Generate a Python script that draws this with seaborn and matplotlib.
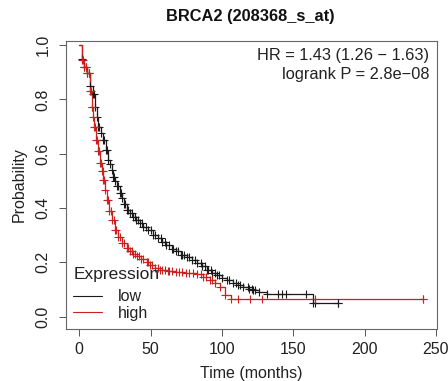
import numpy as np
import pandas as pd
import matplotlib
matplotlib.use("Agg")
import matplotlib.pyplot as plt
from matplotlib.lines import Line2D
import seaborn as sns

# ---- data ----
title = "BRCA2 (208368_s_at)"
hr_text = "HR = 1.43 (1.26 \u2212 1.63)"
p_text = "logrank P = 2.8e\u221208"

low_time = [0, 1.7, 3.5, 5.2, 7.5, 9.4, 11, 12.2, 13.3, 15, 16.8, 18.5, 20.3, 21.5, 22.6,
            23.8, 25, 26.5, 28.5, 30, 31.5, 33.2, 35.5, 38, 40, 42.5, 45, 48, 51.9, 55,
            58, 61, 65, 68, 71, 75.3, 79, 82.3, 86, 89.3, 93, 96.3, 100, 103.3, 107.7,
            111, 115, 119, 122, 126, 131.3, 164, 181]
low_surv = [1.0, 0.95, 0.92, 0.896, 0.85, 0.82, 0.773, 0.735, 0.699, 0.675, 0.65, 0.615,
            0.576, 0.56, 0.54, 0.515, 0.50, 0.48, 0.454, 0.435, 0.415, 0.392, 0.38, 0.365,
            0.355, 0.343, 0.33, 0.318, 0.302, 0.29, 0.275, 0.262, 0.25, 0.24, 0.228, 0.22,
            0.21, 0.198, 0.185, 0.171, 0.16, 0.153, 0.142, 0.134, 0.122, 0.116, 0.11,
            0.102, 0.098, 0.09, 0.082, 0.049, 0.049]
low_cens_extra = [4.5, 6.5, 10, 14, 17.5, 19.5, 24.5, 27.5, 29, 32, 34, 37, 39, 41, 44,
                  47, 50, 53, 57, 60, 63, 66, 69.5, 72, 73.5, 77, 81, 85, 88, 90.5, 92,
                  95, 98, 105, 110, 113, 118, 121, 123.5, 139, 142, 145, 159, 165, 181]

high_time = [0, 1.7, 3.5, 5.2, 7.5, 8.7, 9.5, 10.3, 11.7, 13, 14.5, 15.7, 16.8, 18, 19.2,
             21, 22.7, 25, 27.3, 30, 33.2, 35.5, 38, 40.2, 43.5, 47.2, 49.5, 53, 56.6, 62,
             68, 75, 82.3, 87, 91.6, 95, 98.6, 102, 106, 241]
high_surv = [1.0, 0.945, 0.92, 0.896, 0.83, 0.773, 0.735, 0.699, 0.65, 0.61, 0.566, 0.535,
             0.503, 0.465, 0.429, 0.39, 0.355, 0.32, 0.294, 0.272, 0.252, 0.242, 0.232,
             0.224, 0.212, 0.20, 0.19, 0.178, 0.171, 0.168, 0.165, 0.162, 0.155, 0.147,
             0.134, 0.122, 0.11, 0.079, 0.063, 0.063]
high_cens_extra = [2.5, 4.5, 6.5, 8, 9, 11, 12.3, 14, 15, 16.3, 17.5, 20, 22, 24, 26,
                   28.5, 31.5, 34, 37, 39, 42, 45, 48, 51, 55, 58, 60, 63, 65, 70, 72, 77,
                   80, 85, 89, 93, 111, 119.6, 127.8, 165, 241]

groups = ["low", "high"]
colors = {"low": "#1a1a1a", "high": "#cc1f1f"}

# ---- figure ----
sns.set_style("ticks")
plt.rcParams["font.family"] = ["Liberation Sans", "DejaVu Sans"]

fig = plt.figure(figsize=(4.48, 3.81), dpi=100)
ax = fig.add_axes([65.7 / 448, 1 - 329 / 381, (436.7 - 65.7) / 448, (329 - 40.7) / 381])


def step_value(times, surv, t):
    idx = np.searchsorted(np.asarray(times), np.asarray(t), side="right") - 1
    return np.asarray(surv)[idx]


curves = {
    "low": (low_time, low_surv, low_cens_extra),
    "high": (high_time, high_surv, high_cens_extra),
}
for g in groups:
    t, s, extra = curves[g]
    df = pd.DataFrame({"time": t, "surv": s})
    sns.lineplot(data=df, x="time", y="surv", drawstyle="steps-post", color=colors[g],
                 lw=0.9, estimator=None, sort=True, ax=ax, legend=False)
    ct = np.array(list(t[1:]) + list(extra), dtype=float)
    cs = step_value(t, s, ct)
    sns.scatterplot(x=ct, y=cs, marker="+", s=28, linewidth=0.8, color=colors[g],
                    ax=ax, legend=False, zorder=3)

ax.set_xlim(-9.5, 250.5)
ax.set_ylim(-0.046, 1.016)
ax.set_xticks([0, 50, 100, 150, 200, 250])
ax.set_yticks([0.0, 0.2, 0.4, 0.6, 0.8, 1.0])
ax.set_yticklabels(["0.0", "0.2", "0.4", "0.6", "0.8", "1.0"], rotation=90, va="center")
ax.tick_params(axis="both", labelsize=11.5, length=5, width=0.7, color="#555555",
               labelcolor="#222222")
ax.tick_params(axis="x", pad=4)
ax.tick_params(axis="y", pad=6)
for sp in ax.spines.values():
    sp.set_color("#666666")
    sp.set_linewidth(0.8)

ax.set_xlabel("Time (months)", fontsize=11.5, color="#222222", labelpad=7)
ax.set_ylabel("Probability", fontsize=11.5, color="#222222", labelpad=6)
fig.text(250 / 448, 1 - 17 / 381, title, ha="center", va="center", fontsize=11.8,
         fontweight="bold", color="#111111")

ax.text(0.980, 0.947, hr_text, transform=ax.transAxes, ha="right", va="center",
        fontsize=11.8, color="#222222")
ax.text(0.980, 0.882, p_text, transform=ax.transAxes, ha="right", va="center",
        fontsize=11.8, color="#222222")

handles = [Line2D([], [], color=colors[g], lw=0.8) for g in groups]
leg = ax.legend(handles, groups, title="Expression", loc="lower left",
                bbox_to_anchor=(0.008, 0.012), frameon=False, fontsize=11.5,
                title_fontsize=12.5, handlelength=1.8, handletextpad=1.0,
                labelspacing=0.1, borderpad=0.3, borderaxespad=0.0)
leg._legend_box.align = "left"
leg._legend_box.sep = 5.5
for txt in leg.get_texts():
    txt.set_color("#222222")
leg.get_title().set_color("#222222")

fig.savefig("out.png", dpi=100)
